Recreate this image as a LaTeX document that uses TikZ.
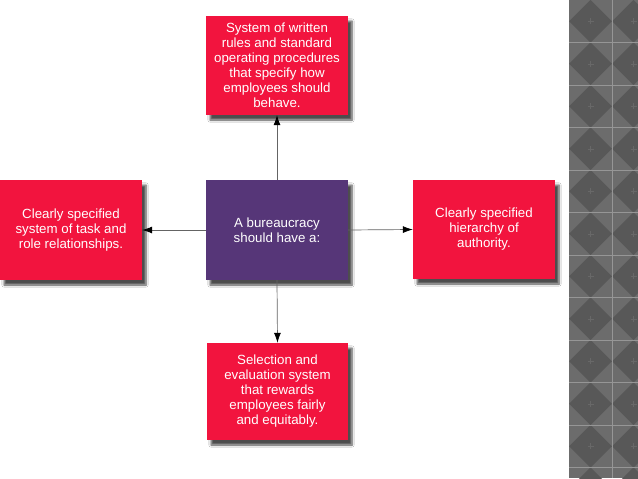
\documentclass[tikz,border=0pt]{standalone}
\usepackage{fontspec}
\setmainfont{Liberation Sans}
\usetikzlibrary{arrows.meta,shadows.blur}
\definecolor{boxred}{RGB}{242,20,62}
\definecolor{boxpurple}{RGB}{86,54,120}
\definecolor{patbg}{RGB}{108,108,108}
\definecolor{patdk}{RGB}{88,88,88}
\definecolor{patln}{RGB}{150,150,150}
\definecolor{connline}{RGB}{100,100,100}
\begin{document}
\begin{tikzpicture}[x=1pt,y=-1pt,
  box/.style={rectangle, draw=none, inner sep=2pt, align=center, text=white,
    font=\fontsize{13.3}{15}\selectfont,
    blur shadow={shadow xshift=4pt, shadow yshift=-5pt, shadow blur steps=6, shadow opacity=70}},
  redbox/.style={box, fill=boxred},
  purplebox/.style={box, fill=boxpurple},
  conn/.style={draw=connline, line width=0.7pt, -{Latex[length=10pt,width=7pt,color=black]}}]
\useasboundingbox (0,0) rectangle (638,479);
\fill[white] (0,0) rectangle (638,479);
% decorative pattern strip
\begin{scope}
  \clip (569,0) rectangle (638,478);
  \fill[patbg] (569,0) rectangle (638,478);
  \foreach \i in {0,...,11}{
    \foreach \cx in {590.5,633.5}{
      \begin{scope}[shift={(\cx,{21.25+42.5*\i})}]
        \fill[patdk] (-21.5,0) -- (0,-21.25) -- (21.5,0) -- (0,21.25) -- cycle;
        \draw[patdk!75!patln, line width=0.5pt] (-3,0) -- (3,0) (0,-3) -- (0,3);
      \end{scope}
    }
  }
  \draw[patln, line width=0.6pt] (612,0) -- (612,478);
  \foreach \i in {1,...,11}{
    \draw[patln, line width=0.6pt] (569,{42.5*\i}) -- (638,{42.5*\i});
  }
\end{scope}
% boxes
\node[redbox, minimum width=142pt, minimum height=99pt] (top) at (277,65.5)
  {System of written\\rules and standard\\operating procedures\\that specify how\\employees should\\behave.};
\node[purplebox, minimum width=142pt, minimum height=100pt] (center) at (277,230)
  {A bureaucracy\\should have a:};
\node[redbox, minimum width=142pt, minimum height=100pt] (left) at (71,230)
  {Clearly specified\\system of task and\\role relationships.};
\node[redbox, minimum width=142pt, minimum height=99pt] (right) at (484,229.5)
  {Clearly specified\\hierarchy of\\authority.};
\node[redbox, minimum width=141pt, minimum height=97pt] (bottom) at (277.5,391.5)
  {Selection and\\evaluation system\\that rewards\\employees fairly\\and equitably.};
% connectors
\draw[conn] (center.north) -- (top.south);
\draw[conn] (center.west) -- (left.east);
\draw[conn] (center.east) -- (right.west);
\draw[conn] (center.south) -- (bottom.north);
\end{tikzpicture}
\end{document}
